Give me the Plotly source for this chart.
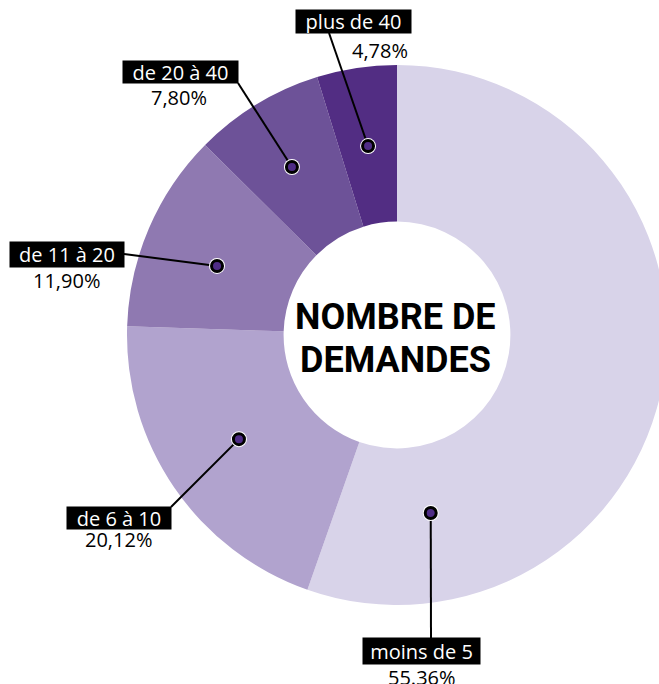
import math
import plotly.graph_objects as go

# ---------------- data ----------------
categories = ["moins de 5", "de 6 à 10", "de 11 à 20", "de 20 à 40", "plus de 40"]
shares = [55.36, 20.12, 11.90, 7.80, 4.78]
share_labels = ["55.36%", "20,12%", "11,90%", "7,80%", "4,78%"]
center_title = ["NOMBRE DE", "DEMANDES"]

# ---------------- style / layout ----------------
colors = ["#d8d3e9", "#b1a3ce", "#8f79b1", "#6d5298", "#522d83"]
DOT_FILL = "#4f2c86"
LABEL_FONT = "Open Sans, Roboto, Liberation Sans, sans-serif"
TITLE_FONT = "Roboto, Liberation Sans, sans-serif"

W, H = 680, 684
CX, CY, R_OUT, HOLE = 397, 335, 270, 0.42

dot_pos_in_slice = [0.849, 0.514, 0.447, 0.473, 0.494]
dot_radius_frac = [0.671, 0.701, 0.714, 0.734, 0.708]
box_center = [(421.5, 651), (119, 518), (67, 254), (180.5, 72), (353.5, 21.5)]
box_size = [(117, 26), (104, 22), (114, 25), (115, 22), (115, 23)]
pct_center = [(422, 677), (118, 539), (66, 280), (179, 97), (380, 50)]
line_start = [(431, 638), (171, 507), (124, 254), (238, 83), (329, 33)]

# ---------------- figure ----------------
fig = go.Figure()

dom_x = [(CX - R_OUT) / W, (CX + R_OUT) / W]
dom_y = [(H - CY - R_OUT) / H, (H - CY + R_OUT) / H]

fig.add_trace(go.Pie(
    labels=categories, values=shares, hole=HOLE, sort=False,
    direction="clockwise", rotation=0,
    marker=dict(colors=colors, line=dict(width=0)),
    textinfo="none", hoverinfo="label+percent", showlegend=False,
    domain=dict(x=dom_x, y=dom_y),
))

# dot positions derived from the data (slice angles)
total = sum(shares)
dots = []
cum = 0.0
for v, f, rf in zip(shares, dot_pos_in_slice, dot_radius_frac):
    ang = (cum + v * f) / total * 2 * math.pi
    r = R_OUT * rf
    dots.append((CX + r * math.sin(ang), CY - r * math.cos(ang)))
    cum += v

fig.add_trace(go.Scatter(x=[d[0] for d in dots], y=[d[1] for d in dots],
                         mode="markers", marker=dict(opacity=0),
                         hoverinfo="skip", showlegend=False))

shapes = []
for (dx, dy), (sx, sy) in zip(dots, line_start):
    shapes.append(dict(type="line", xref="x", yref="y", x0=sx, y0=sy, x1=dx, y1=dy,
                       line=dict(color="black", width=2), layer="above"))
for dx, dy in dots:
    shapes.append(dict(type="circle", xref="x", yref="y", x0=dx - 8, x1=dx + 8,
                       y0=dy - 8, y1=dy + 8, fillcolor="white",
                       line=dict(width=0), layer="above"))
    shapes.append(dict(type="circle", xref="x", yref="y", x0=dx - 5.5, x1=dx + 5.5,
                       y0=dy - 5.5, y1=dy + 5.5, fillcolor=DOT_FILL,
                       line=dict(color="black", width=3), layer="above"))

annotations = []
for cat, pct, (bx, by), (bw, bh), (px, py) in zip(categories, share_labels, box_center,
                                                  box_size, pct_center):
    annotations.append(dict(x=bx, y=by, xref="x", yref="y", text=cat, showarrow=False,
                            bgcolor="black", width=bw, height=bh, borderpad=0,
                            font=dict(family=LABEL_FONT, size=20, color="white"),
                            xanchor="center", yanchor="middle"))
    annotations.append(dict(x=px, y=py, xref="x", yref="y", text=pct, showarrow=False,
                            font=dict(family=LABEL_FONT, size=20, color="black"),
                            xanchor="center", yanchor="middle"))

for txt, ty in zip(center_title, [316.5, 360]):
    annotations.append(dict(x=395, y=ty, xref="x", yref="y", text="<b>" + txt + "</b>",
                            showarrow=False,
                            font=dict(family=TITLE_FONT, size=36, color="black"),
                            xanchor="center", yanchor="middle"))

fig.update_layout(
    width=W, height=H,
    margin=dict(l=0, r=0, t=0, b=0),
    paper_bgcolor="white", plot_bgcolor="rgba(0,0,0,0)",
    xaxis=dict(range=[0, W], visible=False, fixedrange=True),
    yaxis=dict(range=[H, 0], visible=False, fixedrange=True),
    shapes=shapes, annotations=annotations, showlegend=False,
)

fig.write_html("out.html", config=dict(displayModeBar=False),
               post_script="document.body.style.margin='0';document.body.style.overflow='hidden';")
